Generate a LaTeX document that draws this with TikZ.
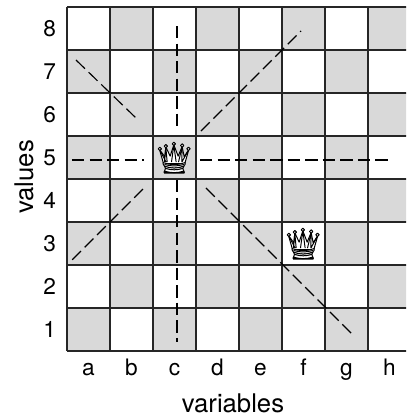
\documentclass[tikz,border=0pt]{standalone}
\usepackage{fontspec}
\setmainfont{TeX Gyre Heros}
\definecolor{boardgray}{HTML}{D9D9D9}
\tikzset{
  gridline/.style={black!85, line width=0.7pt},
  ray/.style={black, line width=0.75pt, dash pattern=on 8.2pt off 3.4pt},
  ticklabel/.style={font=\fontsize{15}{15}\selectfont},
  axislabel/.style={font=\fontsize{17}{17}\selectfont},
  queen/.pic={
    \begin{scope}[x=0.00775cm, y=-0.00775cm, line width=0.65pt, line join=round]
      % crown
      \draw[fill=white] (-33,18) -- (-45,-24) -- (-29,-2) -- (-26,-32) -- (-13,-4) -- (-2,-38) -- (11,-4) -- (23,-33) -- (29,-2) -- (43,-24) -- (31,18) -- cycle;
      \draw (-26,-32) -- (-22,14) (-26,-32) -- (-30,14) (-45,-24) -- (-25,14) (-2,-38) -- (-9,14) (-2,-38) -- (5,14) (23,-33) -- (12,14) (23,-33) -- (22,14) (43,-24) -- (22,14);
      % balls
      \foreach \bx/\by in {-44/-26, -26/-34, -2/-41, 23/-36, 42/-26}
        \draw[fill=white] (\bx,\by) circle (5);
      % rings of the base
      \draw[fill=white] (-34,15) to[out=-20, in=200] (32,15) to[out=-60, in=60] (28,26) to[out=200, in=-20] (-30,26) to[out=120, in=240] cycle;
      \draw[fill=white] (-30,26) to[out=-20, in=200] (28,26) -- (25,33) to[out=200, in=-20] (-27,33) -- cycle;
      \draw (-30,21) to[out=-15, in=195] (28,21);
      \draw[fill=white] (-27,33) to[out=-15, in=195] (25,33) -- (28,41) to[out=195, in=-15] (-30,41) -- cycle;
      \draw[line width=0.9pt] (-31,46) -- (29,46) -- (28,41) (-31,46) -- (-30,41);
    \end{scope}
  }
}
\begin{document}
\begin{tikzpicture}[x=1cm, y=1cm]
    \path[use as bounding box, clip] (-1.558,-1.535) rectangle (7.884,8.163);

    % board squares
    \foreach \col in {1,...,8}
      \foreach \row in {1,...,8} {
        \pgfmathtruncatemacro{\parity}{mod(\col+\row,2)}
        \ifnum\parity=0
          \fill[boardgray] (\col-1,\row-1) rectangle (\col,\row);
        \fi
      }
    \draw[gridline] (0,0) grid (8,8);

    % row and column labels
    \foreach \row in {1,...,8}
      \node[ticklabel] (row\row) at (-0.4,\row-0.5) {\row};
    \foreach \col [count=\i] in {a,b,c,d,e,f,g,h}
      \node[ticklabel, anchor=base] (col\col) at (\i-0.5,-0.58) {\col};

    % axis titles
    \node[axislabel, anchor=base] (variables) at (3.86,-1.44) {variables};
    \node[axislabel, anchor=base, rotate=90] (values) at (-0.79,4.05) {values};

    % attacked lines
    \draw[ray] (2.558,7.558) -- (2.558,5.209);
    \draw[ray] (2.558,3.977) -- (2.558,0.209);
    \draw[ray] (0.116,4.442) -- (1.79,4.442);
    \draw[ray] (3.093,4.442) -- (7.512,4.442);
    \draw[ray] (3.116,5.116) -- (5.442,7.442);
    \draw[ray] (0.209,6.767) -- (1.605,5.419);
    \draw[ray] (1.767,3.767) -- (0.116,2.116);
    \draw[ray] (3.233,3.791) -- (6.628,0.395);

    % queens
    \pic at (2.5,4.5) {queen};
    \pic at (5.5,2.5) {queen};
\end{tikzpicture}
\end{document}
